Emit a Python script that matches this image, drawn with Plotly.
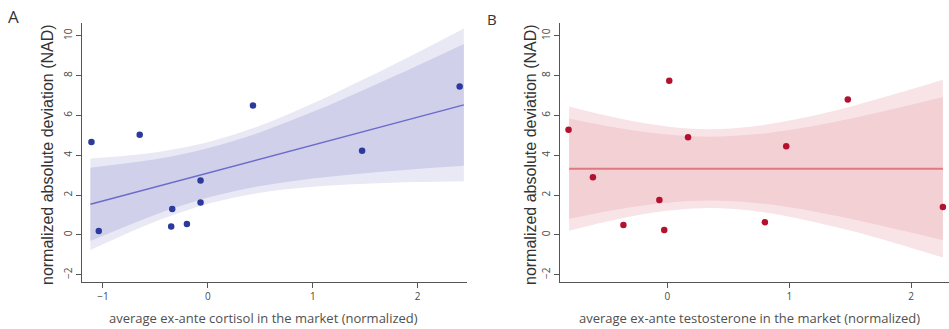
import plotly.graph_objects as go

W, H = 949, 329

# ---- Panel A data (cortisol) ----
cort_x = [-1.11, -1.04, -0.65, -0.34, -0.35, -0.20, -0.07, -0.07, 0.43, 1.47, 2.40]
cort_y = [4.67, 0.20, 5.03, 1.30, 0.42, 0.55, 2.73, 1.63, 6.50, 4.23, 7.45]
cort_fit_x = [-1.12, 2.44]
cort_fit_y = [1.54, 6.53]
cort_band_x = [-1.12, -0.60, -0.27, 0.04, 0.50, 1.00, 1.50, 2.00, 2.44]
cort_in_hi = [3.38, 3.72, 4.03, 4.41, 5.16, 6.18, 7.32, 8.51, 9.59]
cort_in_lo = [-0.30, 0.82, 1.44, 1.93, 2.46, 2.84, 3.10, 3.31, 3.47]
cort_out_hi = [3.84, 4.08, 4.35, 4.72, 5.50, 6.60, 7.85, 9.16, 10.36]
cort_out_lo = [-0.76, 0.46, 1.11, 1.62, 2.12, 2.42, 2.57, 2.66, 2.70]

# ---- Panel B data (testosterone) ----
test_x = [-0.81, -0.61, -0.36, -0.065, -0.025, 0.016, 0.17, 0.80, 0.975, 1.48, 2.26]
test_y = [5.28, 2.90, 0.50, 1.76, 0.25, 7.74, 4.90, 0.64, 4.45, 6.80, 1.40]
test_fit_x = [-0.805, 2.26]
test_fit_y = [3.33, 3.33]
test_band_x = [-0.805, -0.40, 0.00, 0.35, 0.70, 1.00, 1.50, 2.00, 2.26]
test_in_hi = [5.85, 5.37, 5.04, 4.93, 5.04, 5.27, 5.84, 6.54, 6.93]
test_in_lo = [0.81, 1.29, 1.62, 1.73, 1.62, 1.39, 0.82, 0.12, -0.27]
test_out_hi = [6.45, 5.86, 5.45, 5.31, 5.45, 5.74, 6.44, 7.31, 7.79]
test_out_lo = [0.21, 0.80, 1.21, 1.35, 1.21, 0.92, 0.22, -0.65, -1.13]

y_ticks = [-2, 0, 2, 4, 6, 8, 10]
x_ticks = [-1, 0, 1, 2]

fig = go.Figure()


def add_panel(xa, ya, bx, out_lo, out_hi, in_lo, in_hi, fx, fy, px, py,
              c_out, c_in, c_line, c_pt, lw):
    for lo, hi, col in [(out_lo, out_hi, c_out), (in_lo, in_hi, c_in)]:
        fig.add_trace(go.Scatter(x=bx, y=lo, mode="lines", line=dict(width=0, shape="spline", color=col),
                                 xaxis=xa, yaxis=ya, showlegend=False, hoverinfo="skip"))
        fig.add_trace(go.Scatter(x=bx, y=hi, mode="lines", line=dict(width=0, shape="spline", color=col),
                                 fill="tonexty", fillcolor=col,
                                 xaxis=xa, yaxis=ya, showlegend=False, hoverinfo="skip"))
    fig.add_trace(go.Scatter(x=fx, y=fy, mode="lines", line=dict(color=c_line, width=lw),
                             xaxis=xa, yaxis=ya, showlegend=False))
    fig.add_trace(go.Scatter(x=px, y=py, mode="markers", marker=dict(color=c_pt, size=6.5),
                             xaxis=xa, yaxis=ya, showlegend=False))


add_panel("x", "y", cort_band_x, cort_out_lo, cort_out_hi, cort_in_lo, cort_in_hi,
          cort_fit_x, cort_fit_y, cort_x, cort_y,
          "#e9e9f5", "#d0d0eb", "#6b6cc9", "#2b3a9c", 1.5)
add_panel("x2", "y2", test_band_x, test_out_lo, test_out_hi, test_in_lo, test_in_hi,
          test_fit_x, test_fit_y, test_x, test_y,
          "#f8e4e6", "#f2d0d4", "#e07880", "#b3112f", 2)

axis_common = dict(showgrid=False, zeroline=False, showline=True, linecolor="#555555", linewidth=1.2,
                   ticks="outside", ticklen=5, tickcolor="#555555", tickwidth=1,
                   tickfont=dict(family="Open Sans", size=10, color="#4a4a4a"))

ybot, ytop = 1 - 282 / H, 1 - 23 / H

fig.update_layout(
    width=W, height=H, margin=dict(l=0, r=0, t=0, b=0),
    paper_bgcolor="white", plot_bgcolor="white",
    xaxis=dict(domain=[82 / W, 467 / W], range=[-1.2, 2.47], tickvals=x_ticks, anchor="y", **axis_common),
    yaxis=dict(domain=[ybot, ytop], range=[-2.36, 10.64], tickvals=y_ticks, tickangle=-90, anchor="x", **axis_common),
    xaxis2=dict(domain=[560 / W, 1.0], range=[-0.88, 2.31], tickvals=[0, 1, 2], anchor="y2", **axis_common),
    yaxis2=dict(domain=[ybot, ytop], range=[-2.36, 10.64], tickvals=y_ticks, tickangle=-90, anchor="x2", **axis_common),
)

ytitle = "normalized absolute deviation (NAD)"
ann = [
    dict(text="A", x=13 / W, y=1 - 17 / H, font=dict(family="Open Sans", size=17, color="#333333")),
    dict(text="B", x=492 / W, y=1 - 19 / H, font=dict(family="Open Sans", size=15, color="#333333")),
    dict(text=ytitle, x=47 / W, y=1 - 155 / H, textangle=-90,
         font=dict(family="Liberation Sans", size=16, color="#333333")),
    dict(text=ytitle, x=530 / W, y=1 - 155 / H, textangle=-90,
         font=dict(family="Liberation Sans", size=16, color="#333333")),
    dict(text="average ex-ante cortisol in the market (normalized)", x=263 / W, y=1 - 318 / H,
         font=dict(family="Open Sans", size=13, color="#505050")),
    dict(text="average ex-ante testosterone in the market (normalized)", x=749 / W, y=1 - 318 / H,
         font=dict(family="Open Sans", size=13, color="#505050")),
]
for a in ann:
    a.update(xref="paper", yref="paper", showarrow=False, xanchor="center", yanchor="middle")
fig.update_layout(annotations=ann)

fig.write_html("out.html", config={"displayModeBar": False},
               post_script="document.body.style.margin='0';document.body.style.overflow='hidden';")
